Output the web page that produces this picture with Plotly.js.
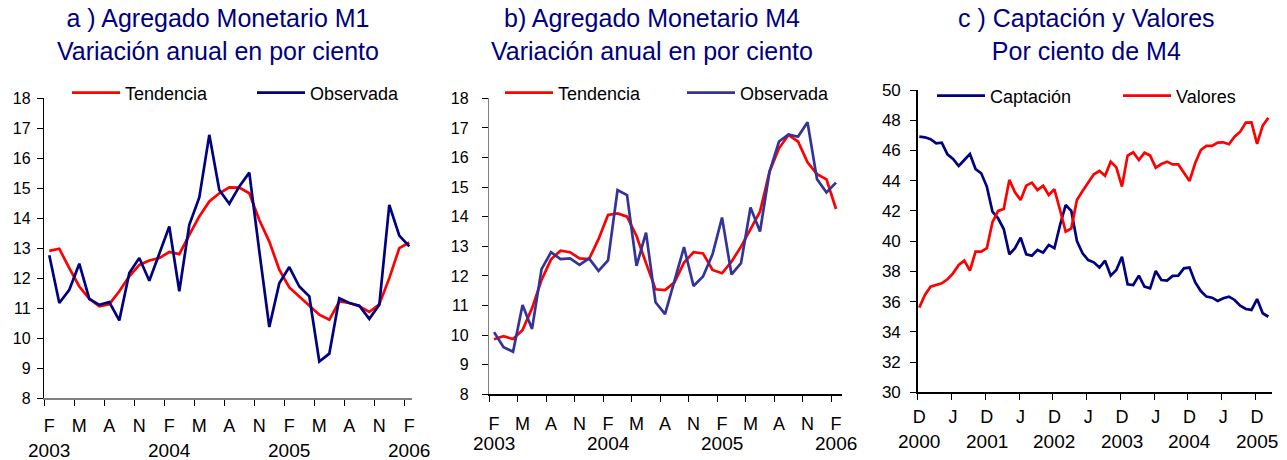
<!DOCTYPE html>
<html><head><meta charset="utf-8">
<script src="https://cdn.plot.ly/plotly-3.0.1.min.js"></script>
<style>html,body{margin:0;padding:0;background:#fff;overflow:hidden}#chart{width:1287px;height:460px}</style>
</head><body><div id="chart"></div>
<script>
// ---- Data ----
// Panel a: M1 annual variation, monthly Feb 2003 .. Feb 2006
const m1Tendencia = [12.91,12.98,12.33,11.72,11.31,11.06,11.13,11.56,12.06,12.44,12.59,12.67,
  12.87,12.8,13.44,14.06,14.56,14.83,15.03,15.02,14.83,13.94,13.22,12.28,
  11.69,11.39,11.09,10.78,10.61,11.22,11.17,11.06,10.87,11.13,12.0,13.0,13.19];
const m1Observada = [12.76,11.17,11.61,12.48,11.31,11.11,11.2,10.59,12.17,12.67,11.91,12.83,
  13.72,11.56,13.78,14.69,16.78,14.94,14.48,15.06,15.52,12.9,10.37,11.83,
  12.37,11.72,11.39,9.22,9.48,11.33,11.17,11.08,10.64,11.11,14.44,13.42,13.06];
// Panel b: M4 annual variation, monthly Feb 2003 .. Feb 2006
const m4Tendencia = [9.86,9.96,9.87,10.17,10.91,11.86,12.56,12.85,12.8,12.59,12.57,13.24,
  14.06,14.11,14.0,13.35,12.43,11.55,11.52,11.78,12.45,12.8,12.76,12.2,
  12.09,12.48,12.99,13.6,14.17,15.52,16.31,16.76,16.54,15.84,15.44,15.26,14.26];
const m4Observada = [10.1,9.59,9.44,11.02,10.21,12.23,12.8,12.57,12.59,12.37,12.59,12.17,
  12.52,14.9,14.73,12.34,13.46,11.11,10.71,11.84,12.97,11.66,11.98,12.73,
  13.97,12.05,12.43,14.31,13.5,15.52,16.54,16.78,16.7,17.19,15.27,14.82,15.15];
// Panel c: share of M4, monthly Dec 2000 .. Feb 2006
const captacion = [46.91,46.87,46.74,46.47,46.52,45.74,45.44,44.97,45.37,45.77,
  44.77,44.49,43.61,41.95,41.51,40.8,39.13,39.53,40.23,39.13,
  39.04,39.42,39.24,39.75,39.53,41.07,42.39,42.0,40.01,39.2,
  38.75,38.6,38.25,38.71,37.72,38.09,38.97,37.14,37.1,37.72,
  36.99,36.88,38.03,37.43,37.39,37.7,37.72,38.2,38.25,37.28,
  36.7,36.33,36.26,36.04,36.22,36.33,36.11,35.73,35.51,35.45,
  36.17,35.23,35.0];
const valores = [35.6,36.44,36.99,37.1,37.21,37.48,37.87,38.42,38.71,38.05,
  39.31,39.31,39.53,41.25,42.0,42.13,44.05,43.23,42.72,43.67,
  43.87,43.38,43.67,43.05,43.43,42.06,40.63,40.85,42.72,43.32,
  43.83,44.42,44.64,44.33,45.26,44.88,43.61,45.66,45.88,45.37,
  45.85,45.66,44.86,45.1,45.26,45.08,45.08,44.49,43.98,45.15,
  46.03,46.3,46.3,46.52,46.54,46.41,46.91,47.24,47.84,47.86,
  46.43,47.64,48.17];
// Tick labels
const monthLabelsAB = ['F','M','A','N','F','M','A','N','F','M','A','N','F'];
const yearLabelsAB = ['2003','2004','2005','2006'];
const monthLabelsC = ['D','J','D','J','D','J','D','J','D','J','D'];
const yearLabelsC = ['2000','2001','2002','2003','2004','2005'];
const titles = ['a ) Agregado Monetario M1<br>Variación anual en por ciento',
                'b) Agregado Monetario M4<br>Variación anual en por ciento',
                'c ) Captación y Valores<br>Por ciento de M4'];

// ---- Helpers ----
const W = 1287, H = 460;
const px = v => v / W;
const py = v => 1 - v / H;
const idx = arr => arr.map((_, i) => i);
const everyN = (labels, n) => labels.map((_, k) => k * n);

const FONT = 'Liberation Sans, Arial, sans-serif';
const NARROW = 'Liberation Sans Narrow, Arial Narrow, Liberation Sans, sans-serif';
const NAVY = '#000080', RED = '#FF0000', INDIGO = '#333399';

function line(x, y, name, color, xa, ya, leg, lw) {
  const t = {x, y, name, type: 'scatter', mode: 'lines', xaxis: xa, yaxis: ya, legend: leg,
    line: {color, width: 2.7}, hoverinfo: 'skip'};
  if (lw) t.legendwidth = lw;
  return t;
}

const traces = [
  line(idx(m1Tendencia), m1Tendencia, 'Tendencia', RED, 'x', 'y', 'legend', 122),
  line(idx(m1Observada), m1Observada, 'Observada', NAVY, 'x', 'y', 'legend'),
  line(idx(m4Tendencia), m4Tendencia, 'Tendencia', RED, 'x2', 'y2', 'legend2', 119),
  line(idx(m4Observada), m4Observada, 'Observada', INDIGO, 'x2', 'y2', 'legend2'),
  line(idx(captacion), captacion, 'Captación', NAVY, 'x3', 'y3', 'legend3', 123),
  line(idx(valores), valores, 'Valores', RED, 'x3', 'y3', 'legend3')
];

function xAxis(dom, range, labels, step, tick0, dtick, anchor, lineColor, standoff) {
  return {domain: dom, range, anchor, showgrid: false, zeroline: false, automargin: false,
    showline: true, linecolor: lineColor, linewidth: 1.5,
    tickmode: 'array', tickvals: everyN(labels, step), ticktext: labels,
    ticks: '', ticklabelstandoff: standoff,
    tickfont: {family: NARROW, size: 18, color: '#000'},
    minor: {tick0, dtick, ticks: 'outside', ticklen: 6, tickwidth: 1, tickcolor: '#000', showgrid: false}};
}
function yAxis(dom, range, dtick, anchor, lineColor, fs, standoff) {
  return {domain: dom, range, anchor, dtick, tick0: range[0], showgrid: false, zeroline: false,
    automargin: false, showline: true, linecolor: lineColor, linewidth: 1.5, ticks: 'outside', ticklen: 6,
    ticklabelstandoff: standoff,
    tickcolor: '#000', tickfont: {family: FONT, size: fs, color: '#000'}};
}
function legend(xLeft, yMid) {
  return {x: px(xLeft), y: py(yMid), xanchor: 'left', yanchor: 'middle', orientation: 'h',
    bgcolor: 'rgba(0,0,0,0)', borderwidth: 0, itemwidth: 48,
    font: {family: FONT, size: 18, color: '#000'}, traceorder: 'normal'};
}

const annotations = [];
[[218, titles[0]], [652, titles[1]], [1086, titles[2]]].forEach(([cx, t]) => {
  annotations.push({xref: 'paper', yref: 'paper', x: px(cx), y: py(34), xanchor: 'center', yanchor: 'middle',
    text: t, showarrow: false, font: {family: FONT, size: 25, color: NAVY}});
});
function years(labels, step, xref, yPix) {
  labels.forEach((lab, k) => annotations.push({xref, yref: 'paper', x: k * step, y: py(yPix),
    xanchor: 'center', yanchor: 'middle', text: lab, showarrow: false,
    font: {family: NARROW, size: 19, color: '#000'}}));
}
years(yearLabelsAB, 12, 'x', 450);
years(yearLabelsAB, 12, 'x2', 443);
years(yearLabelsC, 12, 'x3', 441);

const layout = {
  width: W, height: H, margin: {l: 0, r: 0, t: 0, b: 0, autoexpand: false},
  paper_bgcolor: '#fff', plot_bgcolor: 'rgba(0,0,0,0)', font: {family: FONT},
  showlegend: true,
  xaxis:  xAxis([px(44.3), px(412)], [-0.5, 36.27], monthLabelsAB, 3, -0.5, 3, 'y', '#808080', 11),
  yaxis:  yAxis([py(398), py(98.3)], [8, 18], 1, 'x', '#000', 16, 3),
  xaxis2: xAxis([px(489.3), px(841.7)], [-0.5, 36.6], monthLabelsAB, 3, -0.5, 3, 'y2', '#000', 13),
  yaxis2: yAxis([py(394.3), py(98.3)], [8, 18], 1, 'x2', '#808080', 16, 10),
  xaxis3: xAxis([px(917.7), px(1272.3)], [-0.28, 62.7], monthLabelsC, 6, -0.28, 6, 'y3', '#000', 8),
  yaxis3: yAxis([py(392.3), py(90)], [30, 50], 2, 'x3', '#000', 17, 6),
  legend:  legend(67, 93),
  legend2: legend(500, 93),
  legend3: legend(932, 96),
  annotations
};

Plotly.newPlot('chart', traces, layout, {staticPlot: true, displayModeBar: false});
</script></body></html>
